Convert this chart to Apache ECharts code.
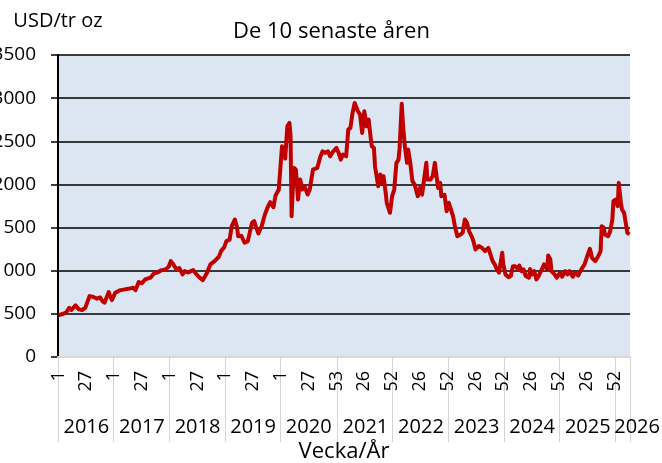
<!DOCTYPE html>
<html lang="sv">
<head>
    <meta charset="UTF-8">
    <title>De 10 senaste åren</title>
    <script src="https://cdn.jsdelivr.net/npm/echarts@6/dist/echarts.min.js"></script>
    <style>
        html, body { margin: 0; padding: 0; background: #fff; }
        #main { width: 662px; height: 463px; }
    </style>
</head>
<body>
<div id="main"></div>
<script type="text/javascript">
    // år och antal veckor per år på kategoriaxeln
    var years = ['2016', '2017', '2018', '2019', '2020', '2021', '2022', '2023', '2024', '2025', '2026'];
    var weeksPerYear = [52, 52, 52, 52, 53, 52, 52, 52, 52, 52, 14];

    // avlästa punkter: veckoindex (0 = v1 2016) och pris USD/tr oz
    var weekIdx = [0, 3, 7, 10, 12, 16, 19, 22, 25, 29, 32, 36, 39, 41, 43, 47, 48, 50, 53, 57,
        62, 65, 70, 72, 75, 78, 81, 86, 89, 92, 96, 100, 103, 105, 107, 110, 113, 116, 118, 121,
        126, 129, 132, 135, 139, 142, 146, 150, 152, 155, 157, 160, 162, 165, 167, 168, 171, 174, 177, 181,
        183, 185, 187, 190, 193, 196, 198, 201, 203, 206, 207, 209, 210, 212, 214, 216, 217, 218, 220, 222,
        224, 226, 228, 230, 233, 235, 238, 242, 245, 247, 249, 252, 254, 257, 260, 262, 264, 266, 269, 271,
        273, 275, 277, 278, 280, 282, 284, 286, 288, 290, 292, 293, 295, 296, 298, 299, 301, 303, 304, 306,
        307, 310, 312, 314, 316, 318, 319, 321, 322, 324, 326, 327, 329, 331, 333, 336, 338, 340, 344, 345,
        348, 350, 352, 353, 355, 357, 358, 361, 363, 365, 367, 369, 371, 373, 376, 378, 380, 382, 384, 387,
        388, 390, 393, 396, 399, 402, 404, 406, 408, 410, 412, 415, 416, 418, 421, 423, 425, 427, 430, 431,
        433, 435, 437, 440, 441, 443, 445, 447, 449, 452, 454, 457, 458, 460, 461, 464, 466, 469, 471, 474,
        476, 478, 481, 483, 486, 489, 492, 494, 497, 499, 502, 504, 507, 508, 510, 511, 514, 516, 518, 519,
        521, 523, 524, 526, 527, 529, 532, 534];
    var price = [485, 495, 515, 570, 545, 598, 552, 545, 570, 706, 698, 676, 690, 648, 630, 752, 714, 660, 745, 772,
        784, 790, 803, 775, 868, 855, 899, 919, 965, 978, 1004, 1015, 1046, 1111, 1080, 1020, 1030, 957, 995, 980,
        1007, 957, 919, 891, 980, 1073, 1111, 1162, 1227, 1273, 1343, 1360, 1516, 1594, 1498, 1400, 1405, 1324, 1343, 1555,
        1575, 1498, 1432, 1516, 1652, 1748, 1794, 1736, 1872, 1941, 1960, 2442, 2460, 2300, 2674, 2713, 2558, 1632, 2192, 2173,
        1825, 2057, 1941, 1980, 1883, 1941, 2172, 2192, 2326, 2384, 2365, 2384, 2326, 2384, 2423, 2365, 2288, 2346, 2326, 2635,
        2655, 2829, 2944, 2925, 2848, 2809, 2597, 2848, 2674, 2752, 2539, 2442, 2423, 2211, 2057, 1980, 2115, 2018, 2096, 1902,
        1787, 1671, 1864, 1941, 2250, 2288, 2420, 2935, 2731, 2430, 2250, 2404, 2250, 2037, 2000, 1864, 1960, 1880, 2250, 2057,
        2057, 2096, 2250, 2153, 1960, 2018, 1864, 1880, 1690, 1787, 1710, 1632, 1498, 1400, 1420, 1440, 1594, 1555, 1459, 1382,
        1343, 1246, 1285, 1265, 1227, 1265, 1189, 1111, 1073, 1015, 977, 1208, 1073, 957, 926, 938, 1053, 1053, 1015, 1060,
        995, 1015, 938, 919, 1020, 957, 995, 899, 938, 1015, 1073, 1015, 1177, 1131, 995, 957, 919, 976, 930, 995,
        957, 995, 930, 976, 945, 1015, 1073, 1150, 1254, 1150, 1111, 1150, 1227, 1516, 1498, 1420, 1400, 1459, 1594, 1806,
        1825, 1748, 2018, 1787, 1710, 1671, 1440, 1420];

    // veckonummer och årsetikett för varje kategori
    var weekLabels = [];
    var yearOfWeek = [];
    var yearStart = {};
    var yearMid = {};
    years.forEach(function (y, k) {
        yearStart[weekLabels.length] = true;
        // sista (ofullständiga) året: etiketten börjar vid årsgränsen, som i Excel
        if (k === years.length - 1) {
            yearMid[weekLabels.length] = '{late|' + y + '}';
        } else {
            yearMid[weekLabels.length + Math.floor(weeksPerYear[k] / 2)] = y;
        }
        for (var w = 1; w <= weeksPerYear[k]; w++) {
            weekLabels.push(String(w));
            yearOfWeek.push(y);
        }
    });

    var seriesData = weekIdx.map(function (x, i) {
        return [x, price[i]];
    });

    var font = 'Open Sans';
    var myChart = echarts.init(document.getElementById('main'));

    var option = {
        backgroundColor: '#ffffff',
        animation: false,
        title: {
            text: 'De 10 senaste åren',
            left: 228,
            top: 16,
            textStyle: {
                fontFamily: font,
                fontSize: 22,
                fontWeight: 'normal',
                color: '#000'
            }
        },
        grid: {
            left: 58,
            right: 32,
            top: 55,
            bottom: 106,
            containLabel: false,
            outerBoundsMode: 'none',
            show: true,
            backgroundColor: '#dce6f2',
            borderWidth: 0
        },
        xAxis: [
            {
                type: 'category',
                data: weekLabels,
                boundaryGap: true,
                z: 5,
                name: 'Vecka/År',
                nameLocation: 'middle',
                nameGap: 84,
                nameTextStyle: {fontFamily: font, fontSize: 22, color: '#000'},
                axisLine: {lineStyle: {color: '#d9d9d9', width: 2}},
                axisTick: {
                    show: true,
                    length: 85,
                    interval: function (idx) {
                        return !!yearStart[idx];
                    },
                    lineStyle: {color: '#d4d4d4', width: 1}
                },
                axisLabel: {
                    interval: 25,
                    rotate: 90,
                    margin: 14,
                    hideOverlap: false,
                    fontFamily: font,
                    fontSize: 18,
                    color: '#000'
                },
                splitLine: {show: false}
            },
            {
                type: 'category',
                data: yearOfWeek,
                boundaryGap: true,
                position: 'bottom',
                z: 5,
                axisLine: {show: false},
                axisTick: {
                    show: true,
                    length: 85,
                    interval: function (idx) {
                        return !!yearStart[idx];
                    },
                    lineStyle: {color: '#d4d4d4', width: 1}
                },
                axisLabel: {
                    interval: 0,
                    margin: 60,
                    hideOverlap: false,
                    fontFamily: font,
                    fontSize: 20,
                    color: '#000',
                    formatter: function (val, idx) {
                        return yearMid[idx] || '';
                    },
                    rich: {
                        late: {fontFamily: font, fontSize: 20, color: '#000', padding: [0, 0, 0, 43]}
                    }
                },
                splitLine: {show: false}
            }
        ],
        yAxis: {
            type: 'value',
            min: 0,
            max: 3500,
            interval: 500,
            name: 'USD/tr oz',
            nameLocation: 'end',
            nameGap: 24,
            nameTextStyle: {fontFamily: font, fontSize: 20, color: '#000'},
            axisLine: {show: true, lineStyle: {color: '#000', width: 2}},
            axisTick: {show: true, length: 7, lineStyle: {color: '#000', width: 1.5}},
            axisLabel: {
                margin: 22,
                fontFamily: font,
                fontSize: 19,
                color: '#000',
                formatter: function (v) {
                    return String(v);
                }
            },
            splitLine: {lineStyle: {color: '#000', width: 1.5}}
        },
        series: [
            {
                name: 'USD/tr oz',
                type: 'line',
                xAxisIndex: 0,
                data: seriesData,
                showSymbol: false,
                symbol: 'none',
                lineStyle: {color: '#c00000', width: 4, join: 'round'},
                z: 3
            }
        ]
    };

    myChart.setOption(option);
</script>
</body>
</html>
